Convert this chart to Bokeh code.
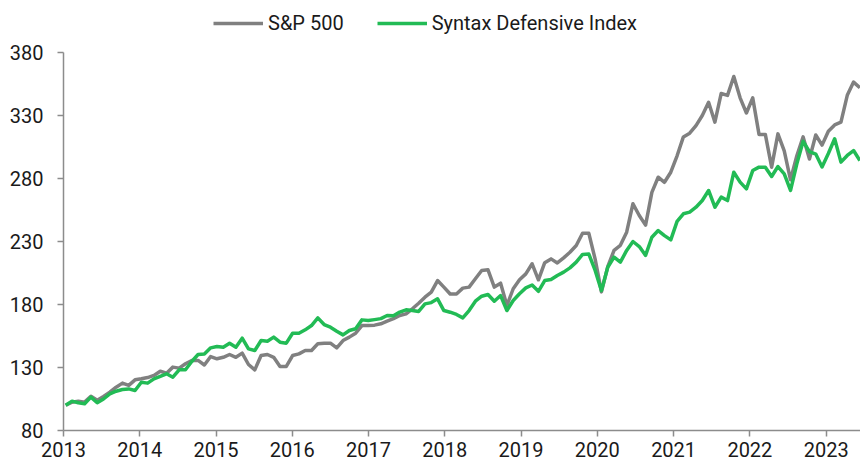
from bokeh.plotting import figure
from bokeh.models import Range1d, FixedTicker, Legend, LegendItem
from bokeh.embed import file_html
from bokeh.resources import INLINE

# ---- data (monthly index values, base 100 at start of 2013) ----
years = ["2013", "2014", "2015", "2016", "2017", "2018", "2019", "2020", "2021", "2022", "2023"]

sp500 = [
    100, 102.5, 103.3, 102.5, 107.2, 104, 107, 110.4, 114.4, 117.6, 115.8, 120.2,
    121, 122, 123.7, 127, 125.5, 130.3, 129.5, 133, 135.6, 135.6, 132,
    138.7, 136.9, 138.1, 140.3, 138.1, 141.4, 132.4, 128.1, 139.5, 140.3, 138.1, 130.8, 130.8,
    139.5, 140.8, 143.5, 143.5, 148.8, 149.3, 149.3, 145.6, 151.4, 154.1, 157.2, 163.3,
    163.3, 163.6, 164.7, 166.8, 168.7, 171.3, 172.6, 176.6, 181, 185.8, 189.8,
    199, 193.8, 188.3, 188.3, 193, 193.8, 200.4, 207, 207.5, 193.8, 196.9,
    179.2, 192.5, 199.6, 204.3, 212.3, 199.6, 213.2, 216.2, 213, 217,
    221.5, 226.8, 236.5, 236.5, 216, 190, 210, 223, 227, 237.4,
    260, 250.6, 243, 269, 281, 277, 285, 298, 313, 316,
    322, 330, 340.5, 324.7, 347.5, 346, 361, 344, 332, 344,
    315, 315, 289, 315.4, 302, 279, 298, 313, 295.5, 314.5,
    306.5, 317.5, 322.5, 324.7, 346, 356.5, 352,
]

syntax = [
    100, 103.3, 102, 101.2, 106.5, 102, 105, 109, 111.2, 112.5, 113, 111.7,
    118.3, 117.6, 121, 123, 125, 122.3, 128.2, 128.2, 134.8, 140.3, 140.8,
    145.6, 146.7, 146.1, 149.3, 146.1, 153.3, 144.8, 143.5, 151.4, 150.9, 154.1, 150.1, 149.3,
    157.2, 157.2, 159.9, 163.3, 169.4, 164.1, 162, 158.8, 155.9, 159.4, 160.7, 167.8, 167.3,
    168, 168.8, 171.3, 171, 174, 175.8, 175.3, 174.5, 180.5, 181.5,
    184.5, 175.2, 173.9, 172.1, 169.4, 175.2, 182.6, 186.6, 187.9, 182.6, 187.1,
    175.2, 183.2, 188.5, 193.2, 195.5, 190.5, 199, 199.8, 203, 205.7,
    209.1, 213.6, 219.7, 220, 207, 191, 209.6, 217.6, 213.6, 222.9,
    230, 226, 219, 233.4, 238.7, 234.7, 231.3, 246, 252, 253.3,
    257.2, 262.5, 270.5, 257.2, 265.2, 262.5, 285, 277.1, 271.8, 286.3,
    289, 289, 281.6, 289.5, 283.7, 270.5, 291.6, 309.5, 301.3, 299.4,
    289.2, 299.8, 311.5, 293, 298.3, 302.2, 294.3,
]

y_ticks = [80, 130, 180, 230, 280, 330, 380]
months = list(range(len(sp500)))

# ---- styling / layout ----
FONT = "Roboto"
FONT_SIZE = "20px"
GRAY = "#808080"
GREEN = "#22BB55"
AXIS = "#8C8C8C"
TEXT = "#1A1A1A"

W, H = 860, 465
BORDER_LEFT, BORDER_BOTTOM = 63, 35
PLOT_TOP = 52                      # pixel row of the top y tick (legend sits above it)
frame_h = H - BORDER_BOTTOM
px_per_unit = (frame_h - PLOT_TOP) / (y_ticks[-1] - y_ticks[0])
y_top = y_ticks[-1] + PLOT_TOP / px_per_unit

x_start = -0.35
x_end = months[-1] + 0.1
months_per_year_on_axis = 12.1
year_ticks = [x_start + k * months_per_year_on_axis for k in range(len(years))]

p = figure(
    width=W, height=H,
    output_backend="svg", toolbar_location=None,
    x_range=Range1d(x_start, x_end), y_range=Range1d(y_ticks[0], y_top),
    min_border_left=BORDER_LEFT, min_border_right=0, min_border_top=0,
    min_border_bottom=BORDER_BOTTOM,
)
p.outline_line_color = None
p.grid.visible = False
p.background_fill_color = "white"
p.border_fill_color = "white"

r1 = p.line(months, sp500, line_color=GRAY, line_width=3.5, line_join="round")
r2 = p.line(months, syntax, line_color=GREEN, line_width=3.5, line_join="round")

for ax in (p.xaxis[0], p.yaxis[0]):
    ax.axis_line_color = AXIS
    ax.axis_line_width = 1.5
    ax.major_tick_line_color = AXIS
    ax.major_tick_line_width = 1.5
    ax.major_tick_in = 0
    ax.major_tick_out = 6
    ax.minor_tick_line_color = None
    ax.major_label_text_font = FONT
    ax.major_label_text_font_size = FONT_SIZE
    ax.major_label_text_color = TEXT

p.yaxis[0].ticker = FixedTicker(ticks=y_ticks)
p.yaxis[0].bounds = (y_ticks[0], y_ticks[-1])
p.yaxis[0].major_label_standoff = 14

p.xaxis[0].ticker = FixedTicker(ticks=year_ticks)
p.xaxis[0].major_label_overrides = {t: y for t, y in zip(year_ticks, years)}
p.xaxis[0].major_label_standoff = 5

legend = Legend(
    items=[
        LegendItem(label="S&P 500", renderers=[r1]),
        LegendItem(label="Syntax Defensive Index", renderers=[r2]),
    ],
    orientation="horizontal",
    location=(150, 395),
    glyph_width=50, glyph_height=20,
    label_standoff=5, spacing=33,
    padding=0, margin=0,
    label_text_font=FONT, label_text_font_size=FONT_SIZE, label_text_color=TEXT,
    background_fill_alpha=0, border_line_alpha=0,
)
p.add_layout(legend)

open("out.html", "w").write(file_html(p, INLINE))
